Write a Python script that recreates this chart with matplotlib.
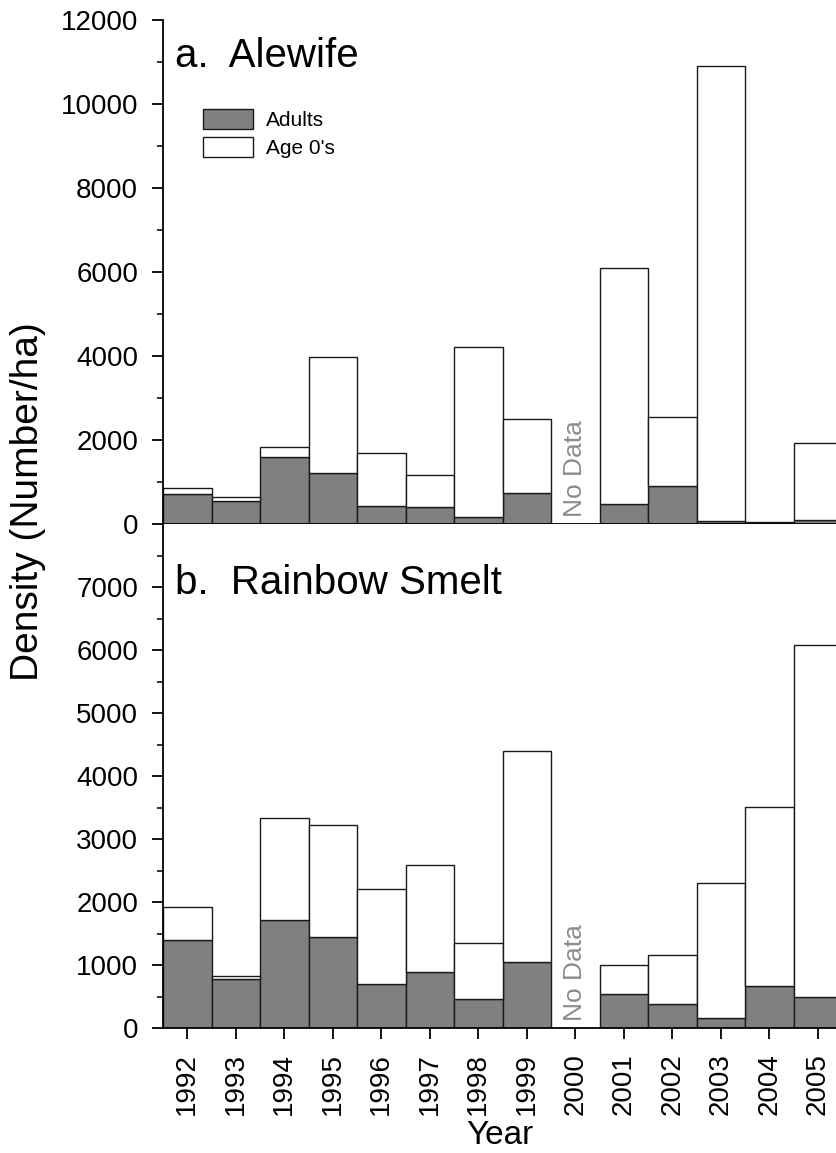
import numpy as np
import matplotlib
matplotlib.use("Agg")
import matplotlib.pyplot as plt
from matplotlib.patches import Patch

plt.rcParams["font.family"] = ["Liberation Sans", "DejaVu Sans"]

years = [1992, 1993, 1994, 1995, 1996, 1997, 1998, 1999,
         2000, 2001, 2002, 2003, 2004, 2005]

# a. Alewife (number/ha); 2000 = no data
alewife_adults = [710, 550, 1600, 1210, 440, 410, 160, 730,
                  np.nan, 480, 910, 70, 20, 85]
alewife_age0 = [150, 100, 230, 2770, 1260, 765, 4055, 1765,
                np.nan, 5620, 1635, 10835, 25, 1840]

# b. Rainbow Smelt
smelt_adults = [1390, 784, 1722, 1437, 705, 889, 456, 1051,
                np.nan, 535, 376, 159, 673, 492]
smelt_age0 = [534, 48, 1608, 1782, 1498, 1695, 890, 3338,
              np.nan, 465, 778, 2143, 2832, 5595]

ADULT_C = "#808080"
EDGE_C = "#1a1a1a"
W, H = 836, 1153

fig = plt.figure(figsize=(W / 100, H / 100), dpi=100)
left = 163 / W
width = 14 * 48.5 / W
ax_a = fig.add_axes([left, (H - 524) / H, width, 504 / H])
ax_b = fig.add_axes([left, (H - 1028) / H, width, 504 / H])


def draw_panel(ax, adults, age0, ymax, major, minor, title, title_y):
    x = np.array(years, dtype=float)
    ad = np.array(adults, dtype=float)
    a0 = np.array(age0, dtype=float)
    ax.bar(x, ad, width=1.0, color=ADULT_C, edgecolor=EDGE_C, lw=1.0,
           label="Adults")
    ax.bar(x, a0, bottom=ad, width=1.0, color="white", edgecolor=EDGE_C,
           lw=1.0, label="Age 0's")
    ax.set_xlim(1991.5, 2005.5)
    ax.set_ylim(0, ymax)
    ax.set_yticks(major)
    ax.set_yticks(minor, minor=True)
    ax.set_xticks(years)
    for s in ("top", "right"):
        ax.spines[s].set_visible(False)
    for s in ("left", "bottom"):
        ax.spines[s].set_linewidth(1.3)
    ax.tick_params(axis="both", which="major", direction="out", length=8,
                   width=1.3, labelsize=20, pad=10)
    ax.tick_params(axis="y", which="minor", direction="out", length=4.5,
                   width=1.1)
    ax.text(0.018, title_y, title, transform=ax.transAxes, fontsize=29,
            ha="left", va="top")
    ax.annotate("No Data", xy=(2000, 0), xytext=(0, 5),
                textcoords="offset points", rotation=90, ha="center",
                va="bottom", fontsize=19, color="#8c8c8c")


draw_panel(ax_a, alewife_adults, alewife_age0, 12000,
           np.arange(0, 12001, 2000), np.arange(1000, 12000, 2000),
           "a.  Alewife", 0.966)
draw_panel(ax_b, smelt_adults, smelt_age0, 8000,
           np.arange(0, 7001, 1000), np.arange(500, 8000, 1000),
           "b.  Rainbow Smelt", 0.921)

ax_a.tick_params(axis="x", labelbottom=False)
ax_b.set_xticklabels([str(y) for y in years], rotation=90)

handles = [Patch(facecolor=ADULT_C, edgecolor=EDGE_C, lw=1.0),
           Patch(facecolor="white", edgecolor=EDGE_C, lw=1.0)]
ax_a.legend(handles, ["Adults", "Age 0's"], loc="upper left",
            bbox_to_anchor=((203 - 163) / 679, 1 - (109 - 20) / 504),
            frameon=False, fontsize=15, handlelength=2.4, handleheight=1.1,
            labelspacing=0.32, handletextpad=0.6, borderpad=0,
            borderaxespad=0)

fig.text(0.033, 0.565, "Density (Number/ha)", rotation=90, fontsize=28,
         ha="center", va="center")
fig.text(500 / W, 0.002, "Year", fontsize=24, ha="center", va="bottom")

fig.savefig("out.png", dpi=100)
